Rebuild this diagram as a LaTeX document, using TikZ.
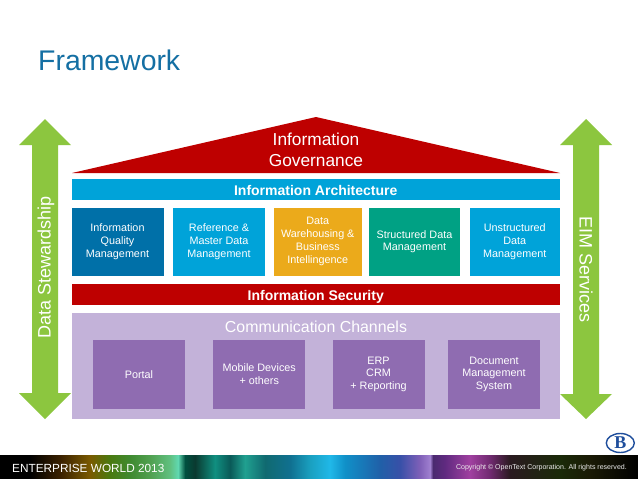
\documentclass[tikz,border=0pt]{standalone}
\usepackage{fontspec}
\usetikzlibrary{shapes.geometric}
\setmainfont{Liberation Sans}
\newfontfamily\logofont{Liberation Serif}
\definecolor{titleblue}{HTML}{146FA3}
\definecolor{roofred}{HTML}{BE0000}
\definecolor{archblue}{HTML}{00A3D9}
\definecolor{darkblue}{HTML}{0070A8}
\definecolor{amber}{HTML}{EBAA1B}
\definecolor{teal}{HTML}{00A184}
\definecolor{lilac}{HTML}{C3B2D9}
\definecolor{violet}{HTML}{8F6CB1}
\definecolor{leaf}{HTML}{8CC63F}
\definecolor{railblue}{HTML}{1F4E9C}
% stops: 25bp + pixel * 50/638
\pgfdeclarehorizontalshading{footerband}{100bp}{
	color(0bp)=(black);
	color(27.35bp)=(black);
	color(29.7bp)=(rgb,255:red,58;green,32;blue,0);
	color(32.05bp)=(rgb,255:red,122;green,90;blue,0);
	color(33.62bp)=(rgb,255:red,74;green,122;blue,16);
	color(35.19bp)=(rgb,255:red,63;green,138;blue,48);
	color(36.76bp)=(rgb,255:red,80;green,160;blue,80);
	color(38.32bp)=(rgb,255:red,96;green,192;blue,128);
	color(38.95bp)=(rgb,255:red,96;green,216;blue,176);
	color(39.5bp)=(rgb,255:red,0;green,80;blue,64);
	color(40.28bp)=(rgb,255:red,10;green,58;blue,48);
	color(41.85bp)=(rgb,255:red,16;green,143;blue,128);
	color(43.03bp)=(rgb,255:red,10;green,90;blue,88);
	color(44.2bp)=(rgb,255:red,32;green,160;blue,144);
	color(45.77bp)=(rgb,255:red,16;green,106;blue,112);
	color(47.73bp)=(rgb,255:red,16;green,112;blue,144);
	color(49.3bp)=(rgb,255:red,26;green,160;blue,192);
	color(50.86bp)=(rgb,255:red,32;green,184;blue,232);
	color(52.04bp)=(rgb,255:red,16;green,144;blue,200);
	color(54.78bp)=(rgb,255:red,32;green,96;blue,168);
	color(56.35bp)=(rgb,255:red,56;green,80;blue,168);
	color(57.92bp)=(rgb,255:red,128;green,96;blue,184);
	color(58.7bp)=(rgb,255:red,160;green,128;blue,208);
	color(58.93bp)=(rgb,255:red,74;green,42;blue,112);
	color(59.87bp)=(rgb,255:red,96;green,42;blue,128);
	color(61.83bp)=(rgb,255:red,160;green,64;blue,160);
	color(63.4bp)=(rgb,255:red,112;green,42;blue,112);
	color(64.97bp)=(rgb,255:red,42;green,26;blue,32);
	color(68.89bp)=(rgb,255:red,26;green,42;blue,8);
	color(71.24bp)=(rgb,255:red,26;green,26;blue,5);
	color(75bp)=(black);
	color(100bp)=(black)
}
\begin{document}
\begin{tikzpicture}[
	x=1pt, y=-1pt,
	tile/.style={ rectangle, inner sep=0pt, text=white, align=center, minimum height=68.5pt, font=\fontsize{10.8}{12.7}\selectfont },
	bar/.style={ rectangle, inner sep=0pt, text=white, minimum width=488.5pt, minimum height=21pt, text height=11pt, text depth=0pt, font=\fontsize{14}{16}\selectfont\bfseries },
	sidetext/.style={ rotate=90, inner sep=0pt, text=white, font=\fontsize{18}{21}\selectfont }
]

\useasboundingbox (0,0) rectangle (638,479);
\fill[white] (0,0) rectangle (638,479);

\node at (38,60.5) (title) [anchor=west, inner sep=0pt, text=titleblue, font=\fontsize{28.4}{32}\selectfont] {Framework};

% side arrows
\fill[leaf] (45,119) -- (71,145) -- (58,145) -- (58,393) -- (71,393) -- (45,419) -- (19,393) -- (32,393) -- (32,145) -- (19,145) -- cycle;
\node at (46,267.5) (stewardship) [sidetext] {Data Stewardship};
\fill[leaf] (586,119) -- (612,145) -- (599,145) -- (599,394) -- (612,394) -- (586,419) -- (560,394) -- (573,394) -- (573,145) -- (560,145) -- cycle;
\node at (586,269.5) (eim) [sidetext, rotate=180] {EIM Services};

% roof
\fill[roofred] (72,173) -- (316,117) -- (560,173) -- cycle;
\node at (316,150) (governance) [text=white, align=center, inner sep=0pt, font=\fontsize{17.3}{21.6}\selectfont] {Information\\Governance};

\node at (315.75,189.5) (architecture) [bar, fill=archblue] {Information Architecture};
\node at (117.5,241.75) (quality) [tile, minimum width=92pt, fill=darkblue] {Information\\Quality\\Management};
\node at (219,241.75) (reference) [tile, minimum width=92pt, fill=archblue] {Reference \&\\Master Data\\Management};
\node at (317.75,241.75) (warehousing) [tile, minimum width=88pt, fill=amber, font=\fontsize{10.8}{13}\selectfont] {Data\\Warehousing \&\\Business\\Intellingence};
\node at (414.5,241.75) (structured) [tile, minimum width=90.5pt, fill=teal] {Structured Data\\Management};
\node at (514.75,241.75) (unstructured) [tile, minimum width=90.5pt, fill=archblue] {Unstructured\\Data\\Management};
\node at (315.75,294.5) (security) [bar, fill=roofred] {Information Security};

% channels
\node at (315.75,365.75) (channels) [rectangle, inner sep=0pt, fill=lilac, minimum width=488.5pt, minimum height=105.5pt] {};
\node at (316,327) (channelstitle) [text=white, inner sep=0pt, font=\fontsize{15.9}{18}\selectfont] {Communication Channels};
\node at (139,374.25) (portal) [tile, minimum width=92pt, fill=violet] {Portal};
\node at (259.25,374.25) (mobile) [tile, minimum width=92pt, fill=violet] {Mobile Devices\\+ others};
\node at (378.5,374.25) (erp) [tile, minimum width=92pt, fill=violet] {ERP\\CRM\\+ Reporting};
\node at (494,374.25) (document) [tile, minimum width=92pt, fill=violet] {Document\\Management\\System};

% footer
\node at (620.3,443) (logo) [ellipse, draw=railblue, line width=1.4pt, inner sep=0pt, minimum width=28pt, minimum height=19pt, text=railblue, text height=11pt, text depth=0pt, font=\logofont\fontsize{18}{18}\selectfont\bfseries] {B};
\node at (319,467) (band) [rectangle, inner sep=0pt, minimum width=638pt, minimum height=24pt, shading=footerband] {};
\node at (12,468) (world) [anchor=west, inner sep=0pt, text=white, font=\fontsize{11.8}{14}\selectfont] {ENTERPRISE WORLD 2013};
\node at (627,468) (copyright) [anchor=east, inner sep=0pt, text=white!85!gray, font=\fontsize{7.03}{9}\selectfont] {Copyright © OpenText Corporation. All rights reserved.};

\end{tikzpicture}
\end{document}
